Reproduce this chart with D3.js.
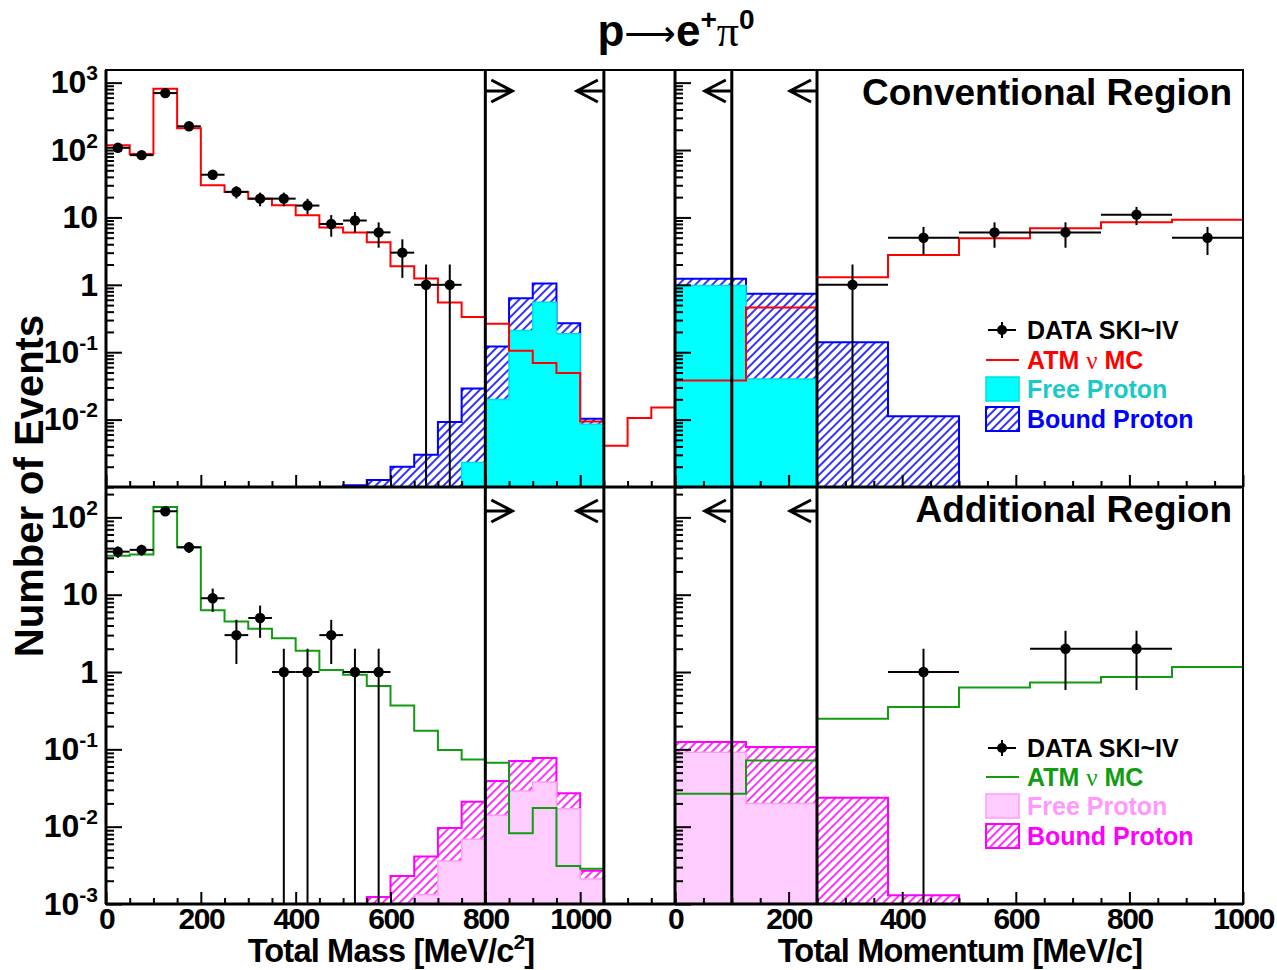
<!DOCTYPE html>
<html>
<head>
<meta charset="utf-8">
<script src="https://cdn.jsdelivr.net/npm/d3@7"></script>
<style>
  body { margin: 0; background: #fff; }
  svg { display: block; font-family: "Liberation Sans", Arial, Helvetica, sans-serif; font-weight: bold; }
</style>
</head>
<body>
<div id="chart"></div>
<script>
// ---- binning ----
const massBinLo = [0, 50, 100, 150, 200, 250, 300, 350, 400, 450, 500, 550, 600, 650, 700, 750, 800, 850, 900, 950, 1000, 1050, 1100, 1150];
const massBinWidth = 50;
const momBinLo = [0, 125, 250, 375, 500, 625, 750, 875];
const momBinWidth = 125;

// ---- Conventional region (top row) ----
const convMassData  = [108, 84, 700, 225, 43, 24, 19, 19, 15, 8, 9, 6, 3, 1, 1, null, null, null, null, null, null, null, null, null];
const convMassMC    = [118, 87, 810, 210, 30, 23.9, 19, 15.1, 10.8, 7.06, 5.96, 4.28, 1.89, 1.24, 0.547, 0.332, 0.264, 0.105, 0.069, 0.049, 0.0094, 0.0041, 0.0106, 0.0151];
const convMassBound = [0, 0, 0, 0, 0, 0, 0, 0, 0, 0, 0.00106, 0.00127, 0.002, 0.003, 0.0092, 0.029, 0.122, 0.63, 1.05, 0.27, 0.0103, 0, 0, 0];
const convMassFree  = [0, 0, 0, 0, 0, 0, 0, 0, 0, 0, 0, 0, 0, 0, 0, 0.0023, 0.0199, 0.21, 0.55, 0.188, 0.0085, 0, 0, 0];
const convMomData   = [null, null, 1, 5, 6, 6, 11, 5];
const convMomMC     = [0.038, 0.46, 1.3, 2.78, 4.9, 6.9, 8.5, 9.2];
const convMomBound  = [1.23, 0.74, 0.14, 0.0112, 0, 0, 0, 0];
const convMomFree   = [0.98, 0.040, 0, 0, 0, 0, 0, 0];

// ---- Additional region (bottom row) ----
const addMassData  = [36, 38, 120, 41, 9, 3, 5, 1, 1, 3, 1, 1, null, null, null, null, null, null, null, null, null, null, null, null];
const addMassMC    = [32, 33, 136, 41, 6.3, 4.5, 3.64, 2.73, 1.89, 1.06, 0.92, 0.66, 0.37, 0.174, 0.098, 0.074, 0.067, 0.0082, 0.0174, 0.0031, 0.00285, 0, 0, 0];
const addMassBound = [0, 0, 0, 0, 0, 0, 0, 0, 0, 0, 0, 0.00123, 0.0023, 0.0041, 0.0096, 0.021, 0.039, 0.0707, 0.077, 0.027, 0.0027, 0, 0, 0];
const addMassFree  = [0, 0, 0, 0, 0, 0, 0, 0, 0, 0, 0, 0, 0, 0.00133, 0.0036, 0.0069, 0.014, 0.029, 0.0378, 0.017, 0.0021, 0, 0, 0];
const addMomData   = [null, null, null, 1, null, 2, 2, null];
const addMomMC     = [0.0267, 0.072, 0.249, 0.353, 0.63, 0.73, 0.86, 1.16];
const addMomBound  = [0.124, 0.107, 0.0237, 0.0013, 0, 0, 0, 0];
const addMomFree   = [0.092, 0.020, 0, 0, 0, 0, 0, 0];

// ---- cuts, ticks ----
const massCuts = [800, 1050];
const momCuts = [100, 250];
const massTickLabels = [0, 200, 400, 600, 800, 1000];
const momTickLabels = [0, 200, 400, 600, 800, 1000];
const convDecades = [1e-2, 1e-1, 1, 10, 100, 1000];
const addDecades = [1e-3, 1e-2, 1e-1, 1, 10, 100];

// ---- layout ----
const W = 1277, H = 970;
const pLeft = 106, pMid = 675, pRight = 1243;
const pTop = 70, pSplit = 487, pBottom = 904;

const xMass = d3.scaleLinear().domain([0, 1200]).range([pLeft, pMid]);
const xMom = d3.scaleLinear().domain([0, 1000]).range([pMid, pRight]);
const yConv = d3.scaleLog().domain([1e-3, 1540]).range([pSplit, pTop]);
const yAdd = d3.scaleLog().domain([1e-3, 247]).range([pBottom, pSplit]);

const convStyle = { mc: "#ff0000", free: "#00ffff", freeStroke: "#00dede", bound: "#0000ff", hatch: "url(#hatchBlue)", freeText: "#1cc9c9" };
const addStyle  = { mc: "#119c11", free: "#ffccff", freeStroke: "#ff9cf5", bound: "#ff00ff", hatch: "url(#hatchPink)", freeText: "#ff99ff" };

const svg = d3.select("#chart").append("svg")
  .attr("width", W)
  .attr("height", H);

const defs = svg.append("defs");

function hatch(id, color) {
  const p = defs.append("pattern")
    .attr("id", id)
    .attr("patternUnits", "userSpaceOnUse")
    .attr("width", 6).attr("height", 6)
    .attr("patternTransform", "rotate(45)");
  p.append("line")
    .attr("x1", 3).attr("y1", -1).attr("x2", 3).attr("y2", 7)
    .attr("stroke", color).attr("stroke-width", 1.6);
}
hatch("hatchBlue", "#0000ff");
hatch("hatchPink", "#ff00ff");

const panels = [
  { id: "cm", x: xMass, y: yConv, lo: massBinLo, w: massBinWidth, data: convMassData, mc: convMassMC, bound: convMassBound, free: convMassFree, style: convStyle, labels: false },
  { id: "cp", x: xMom,  y: yConv, lo: momBinLo,  w: momBinWidth,  data: convMomData,  mc: convMomMC,  bound: convMomBound,  free: convMomFree,  style: convStyle, labels: false },
  { id: "am", x: xMass, y: yAdd,  lo: massBinLo, w: massBinWidth, data: addMassData,  mc: addMassMC,  bound: addMassBound,  free: addMassFree,  style: addStyle,  labels: true },
  { id: "ap", x: xMom,  y: yAdd,  lo: momBinLo,  w: momBinWidth,  data: addMomData,   mc: addMomMC,   bound: addMomBound,   free: addMomFree,   style: addStyle,  labels: true }
];

// keep the run of non-empty bins, plus a closing point at the upper edge
function histPoints(lo, w, vals) {
  const idx = vals.map((v, i) => (v > 0 ? i : -1)).filter(i => i >= 0);
  if (!idx.length) return [];
  const a = idx[0], b = idx[idx.length - 1];
  const pts = [];
  for (let i = a; i <= b; i++) pts.push({ x: lo[i], v: vals[i] });
  pts.push({ x: lo[b] + w, v: vals[b] });
  return pts;
}

panels.forEach(p => {
  const [x0, x1] = p.x.range();
  const [yb, yt] = p.y.range();
  const ymin = p.y.domain()[0];

  defs.append("clipPath").attr("id", "clip-" + p.id)
    .append("rect")
    .attr("x", x0).attr("y", yt)
    .attr("width", x1 - x0).attr("height", yb - yt);

  const g = svg.append("g").attr("clip-path", `url(#clip-${p.id})`);

  const area = d3.area()
    .curve(d3.curveStepAfter)
    .x(d => p.x(d.x))
    .y0(yb)
    .y1(d => p.y(Math.max(d.v, ymin)));

  const line = d3.line()
    .curve(d3.curveStepAfter)
    .x(d => p.x(d.x))
    .y(d => p.y(Math.max(d.v, ymin)));

  // bound proton (total) hatched
  g.append("path")
    .attr("d", area(histPoints(p.lo, p.w, p.bound)))
    .attr("fill", p.style.hatch)
    .attr("stroke", p.style.bound)
    .attr("stroke-width", 2);

  // free proton filled
  g.append("path")
    .attr("d", area(histPoints(p.lo, p.w, p.free)))
    .attr("fill", p.style.free)
    .attr("stroke", p.style.freeStroke)
    .attr("stroke-width", 1.5);

  // atmospheric MC
  g.append("path")
    .attr("d", line(histPoints(p.lo, p.w, p.mc)))
    .attr("fill", "none")
    .attr("stroke", p.style.mc)
    .attr("stroke-width", 2);

  // data points
  const pts = p.data
    .map((v, i) => ({ lo: p.lo[i], v }))
    .filter(d => d.v != null);

  const dg = g.selectAll(".pt").data(pts).join("g").attr("class", "pt");
  dg.append("line")
    .attr("x1", d => p.x(d.lo)).attr("x2", d => p.x(d.lo + p.w))
    .attr("y1", d => p.y(d.v)).attr("y2", d => p.y(d.v))
    .attr("stroke", "#000").attr("stroke-width", 2);
  dg.append("line")
    .attr("x1", d => p.x(d.lo + p.w / 2)).attr("x2", d => p.x(d.lo + p.w / 2))
    .attr("y1", d => p.y(d.v + Math.sqrt(d.v)))
    .attr("y2", d => p.y(Math.max(d.v - Math.sqrt(d.v), 1e-9)))
    .attr("stroke", "#000").attr("stroke-width", 2);
  dg.append("circle")
    .attr("cx", d => p.x(d.lo + p.w / 2))
    .attr("cy", d => p.y(d.v))
    .attr("r", 5.2)
    .attr("fill", "#000");
});

// ---- axes ----
function supLabels(sel) {
  sel.selectAll(".tick text").each(function (d) {
    const e = Math.round(Math.log10(d));
    const t = d3.select(this).text(null);
    if (e === 0) t.text("1");
    else if (e === 1) t.text("10");
    else {
      t.append("tspan").text("10");
      t.append("tspan").attr("dy", -13).attr("font-size", 21).text(e);
    }
  });
}

function styleAxis(sel, size) {
  sel.attr("font-family", null).attr("font-size", size);
  sel.select(".domain").remove();
  sel.selectAll(".tick line").attr("stroke", "#000").attr("stroke-width", 2);
  sel.selectAll(".tick text").attr("fill", "#000");
}

panels.forEach(p => {
  const [x0] = p.x.range();
  const [yb] = p.y.range();
  const decades = p.y === yConv ? convDecades : addDecades;
  const minorY = p.y.ticks(12).filter(v => !decades.some(dd => Math.abs(dd - v) / dd < 1e-6));
  const majorX = p.x === xMass ? massTickLabels : momTickLabels;
  const xMax = p.x.domain()[1];
  const minorX = d3.range(0, xMax + 1, 50).filter(v => !majorX.includes(v));

  // y axis
  svg.append("g")
    .attr("transform", `translate(${x0},0)`)
    .call(d3.axisLeft(p.y).tickValues(minorY).tickSizeInner(-8).tickSizeOuter(0).tickFormat(""))
    .call(styleAxis, 32);
  const yMaj = svg.append("g")
    .attr("transform", `translate(${x0},0)`)
    .call(d3.axisLeft(p.y).tickValues(decades).tickSizeInner(-16).tickSizeOuter(0).tickPadding(8))
    .call(styleAxis, 32);
  if (p.x === xMass) yMaj.call(supLabels);
  else yMaj.selectAll(".tick text").remove();

  // x axis
  svg.append("g")
    .attr("transform", `translate(0,${yb})`)
    .call(d3.axisBottom(p.x).tickValues(minorX).tickSizeInner(-6).tickSizeOuter(0).tickFormat(""))
    .call(styleAxis, 30);
  const xMaj = svg.append("g")
    .attr("transform", `translate(0,${yb})`)
    .call(d3.axisBottom(p.x).tickValues(majorX).tickSizeInner(-12).tickSizeOuter(0).tickPadding(4).tickFormat(d3.format("d")))
    .call(styleAxis, 30);
  if (!p.labels) xMaj.selectAll(".tick text").remove();
  else xMaj.selectAll(".tick text").attr("letter-spacing", -1.5);
});

// ---- frame ----
const frame = svg.append("g").attr("stroke", "#000").attr("fill", "none");
frame.append("rect")
  .attr("x", pLeft).attr("y", pTop)
  .attr("width", pRight - pLeft).attr("height", pBottom - pTop)
  .attr("stroke-width", 2);
frame.append("line").attr("x1", pLeft).attr("x2", pLeft).attr("y1", pTop).attr("y2", pBottom).attr("stroke-width", 3);
frame.append("line").attr("x1", pLeft).attr("x2", pRight).attr("y1", pBottom).attr("y2", pBottom).attr("stroke-width", 3);
frame.append("line").attr("x1", pLeft).attr("x2", pRight).attr("y1", pSplit).attr("y2", pSplit).attr("stroke-width", 3);
frame.append("line").attr("x1", pMid).attr("x2", pMid).attr("y1", pTop).attr("y2", pBottom).attr("stroke-width", 3);

// ---- cut lines and arrows ----
const cuts = [
  ...massCuts.map((c, i) => ({ x: xMass(c), dir: i === 0 ? 1 : -1 })),
  ...momCuts.map(c => ({ x: xMom(c), dir: -1 }))
];
const arrowRows = [pTop + 21, pSplit + 24];
cuts.forEach(c => {
  frame.append("line")
    .attr("x1", c.x).attr("x2", c.x).attr("y1", pTop).attr("y2", pBottom)
    .attr("stroke-width", 3);
  arrowRows.forEach(ay => {
    const tip = c.x + c.dir * 27;
    const back = tip - c.dir * 21;
    frame.append("path")
      .attr("d", `M${c.x},${ay}L${tip},${ay}M${back},${ay - 11}L${tip},${ay}L${back},${ay + 11}`)
      .attr("stroke-width", 3);
  });
});

// ---- titles ----
const title = svg.append("text")
  .attr("x", 676).attr("y", 46)
  .attr("text-anchor", "middle")
  .attr("font-size", 44);
title.append("tspan").text("p");
title.append("tspan").attr("font-weight", "normal").attr("font-family", "DejaVu Sans").attr("font-size", 36).text("⟶");
title.append("tspan").text("e");
title.append("tspan").attr("dy", -17).attr("font-size", 28).text("+");
title.append("tspan").attr("dy", 17).attr("font-weight", "normal").attr("font-family", "Liberation Serif").text("π");
title.append("tspan").attr("dy", -17).attr("font-size", 28).text("0");

svg.append("text")
  .attr("transform", "translate(43,486) rotate(-90)")
  .attr("text-anchor", "middle")
  .attr("font-size", 40)
  .text("Number of Events");

const xt1 = svg.append("text")
  .attr("x", 391).attr("y", 962)
  .attr("text-anchor", "middle")
  .attr("font-size", 32.5)
  .attr("letter-spacing", -0.8);
xt1.append("tspan").text("Total Mass [MeV/c");
xt1.append("tspan").attr("dy", -13).attr("font-size", 21).text("2");
xt1.append("tspan").attr("dy", 13).text("]");

svg.append("text")
  .attr("x", 960).attr("y", 962)
  .attr("text-anchor", "middle")
  .attr("font-size", 32.5)
  .attr("letter-spacing", -0.8)
  .text("Total Momentum [MeV/c]");

svg.append("text")
  .attr("x", 1232).attr("y", 105)
  .attr("text-anchor", "end")
  .attr("font-size", 37)
  .text("Conventional Region");

svg.append("text")
  .attr("x", 1232).attr("y", 522)
  .attr("text-anchor", "end")
  .attr("font-size", 37)
  .text("Additional Region");

// ---- legends ----
function legend(rows, style) {
  const lg = svg.append("g").attr("font-size", 25);
  const sx = 986, sw = 33, tx = 1027;
  // data
  lg.append("line").attr("x1", 988).attr("x2", 1016).attr("y1", rows[0]).attr("y2", rows[0]).attr("stroke", "#000").attr("stroke-width", 2);
  lg.append("line").attr("x1", 1002).attr("x2", 1002).attr("y1", rows[0] - 8).attr("y2", rows[0] + 8).attr("stroke", "#000").attr("stroke-width", 2);
  lg.append("circle").attr("cx", 1002).attr("cy", rows[0]).attr("r", 5).attr("fill", "#000");
  lg.append("text").attr("x", tx).attr("y", rows[0] + 9).attr("fill", "#000").text("DATA SKI~IV");
  // MC
  lg.append("line").attr("x1", sx).attr("x2", sx + sw).attr("y1", rows[1]).attr("y2", rows[1]).attr("stroke", style.mc).attr("stroke-width", 2);
  const mt = lg.append("text").attr("x", tx).attr("y", rows[1] + 9).attr("fill", style.mc);
  mt.append("tspan").text("ATM ");
  mt.append("tspan").attr("font-family", "Liberation Serif").attr("font-weight", "normal").text("ν");
  mt.append("tspan").text(" MC");
  // free
  lg.append("rect").attr("x", sx).attr("y", rows[2] - 12).attr("width", sw).attr("height", 24)
    .attr("fill", style.free).attr("stroke", style.freeStroke).attr("stroke-width", 1.5);
  lg.append("text").attr("x", tx).attr("y", rows[2] + 9).attr("fill", style.freeText).text("Free Proton");
  // bound
  lg.append("rect").attr("x", sx).attr("y", rows[3] - 12).attr("width", sw).attr("height", 24)
    .attr("fill", style.hatch).attr("stroke", style.bound).attr("stroke-width", 2);
  lg.append("text").attr("x", tx).attr("y", rows[3] + 9).attr("fill", style.bound).text("Bound Proton");
}
legend([330, 360, 389, 419], convStyle);
legend([748, 777, 806, 836], addStyle);
</script>
</body>
</html>
